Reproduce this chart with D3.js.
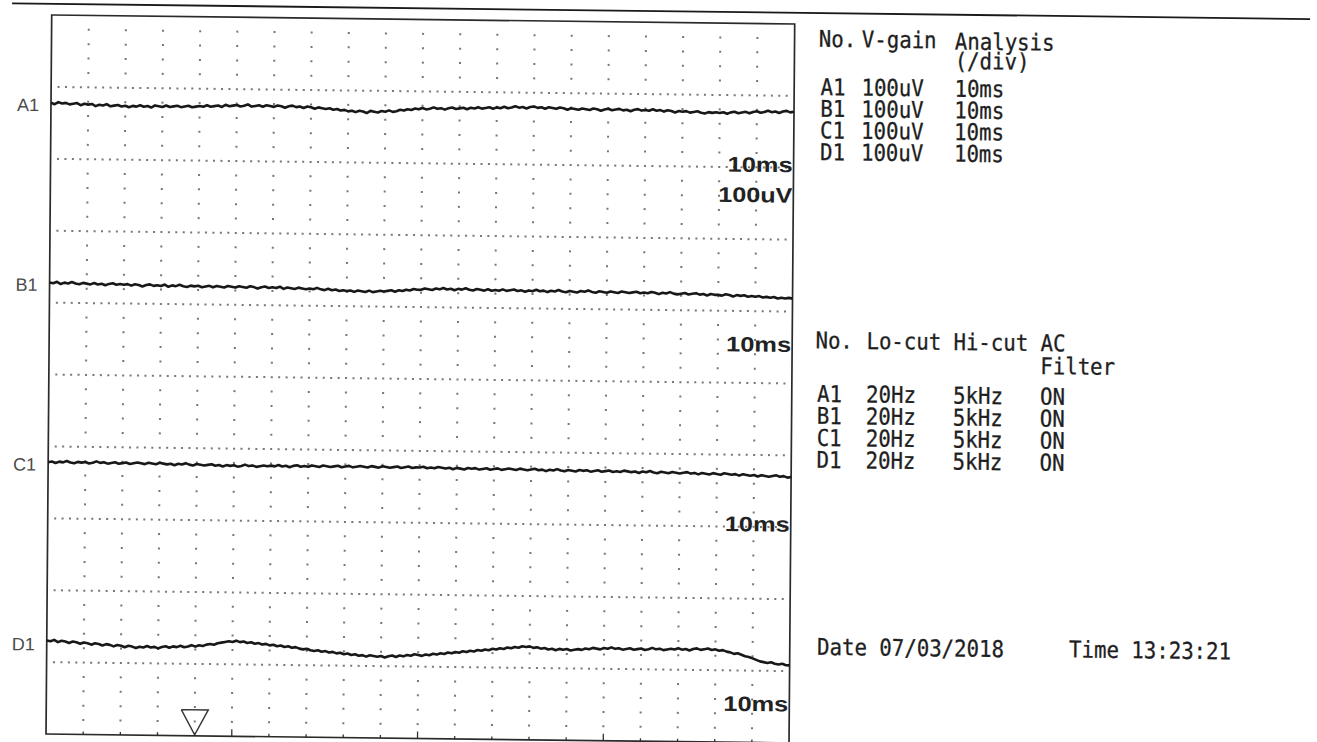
<!DOCTYPE html>
<html><head><meta charset="utf-8">
<script src="https://cdn.jsdelivr.net/npm/d3@7"></script>
<style>body{margin:0;background:#fff;}svg{display:block}</style>
</head><body>
<svg id="c" width="1317" height="742"></svg>
<script>
// ---------- data ----------
const channels = ["A1", "B1", "C1", "D1"];
const vGain = ["100uV", "100uV", "100uV", "100uV"];
const analysis = ["10ms", "10ms", "10ms", "10ms"];
const loCut = ["20Hz", "20Hz", "20Hz", "20Hz"];
const hiCut = ["5kHz", "5kHz", "5kHz", "5kHz"];
const acFilter = ["ON", "ON", "ON", "ON"];
const sweepMs = 200;          // 20 div x 10 ms
const screenUv = 1000;        // 10 div x 100 uV
const triggerMs = 40;
const dateText = "Date 07/03/2018";
const timeText = "Time 13:23:21";
const sampleStepMs = 1;
// traces in uV relative to each channel baseline, one value every 1 ms (0..200 ms)
const traceA1 = [
  3,1,4,2,3,1,2,3,0,2, 1,2,-1,1,0,2,-1,0,1,-1, 0,-2,0,-1,1,-1,0,-2,1,0, -1,1,-1,0,1,-1,0,1,-1,0,
  1,0,2,0,1,2,0,3,1,2, 3,1,2,4,1,2,3,1,3,2, 1,3,2,0,2,3,1,2,0,2, 1,-1,1,0,-1,0,-2,-1,-3,-2,
  -4,-3,-5,-3,-4,-6,-3,-4,-5,-3, -4,-2,-4,-3,-1,-2,0,-1,1,0, 2,0,1,3,1,2,0,2,3,1, 2,3,1,3,2,4,2,3,4,2,
  4,3,5,3,4,6,4,5,3,5, 6,4,5,3,5,4,3,5,4,2, 4,3,2,4,3,2,4,3,1,3, 4,2,3,4,2,3,1,3,4,2,
  3,2,4,2,3,1,3,2,0,2, 1,2,0,1,2,0,-1,1,0,1, 0,1,-1,1,2,0,1,2,0,2, 3,1,2,4,2,3,1,3,4,2, 3];
const traceB1 = [
  3,2,4,1,3,2,4,2,1,3, 2,1,3,1,2,0,2,3,1,2, 1,2,0,2,1,-1,1,2,0,1, 0,2,-1,1,0,2,0,-1,1,0,
  1,-1,0,1,-1,1,0,-1,1,0, -1,1,0,-1,1,0,-2,0,1,-1, 0,-1,1,-2,0,-1,-2,0,-1,-2, -1,-2,0,-2,-3,-1,-3,-2,-4,-3,
  -4,-3,-5,-3,-4,-5,-3,-5,-4,-3, -4,-3,-2,-4,-2,-3,-1,-2,0,-1, -1,1,0,-1,1,0,2,0,1,-1, 1,0,2,0,-1,1,0,-1,1,-1,
  0,-1,1,-1,0,1,-1,0,-2,0, -1,1,-1,0,-2,0,-1,1,-1,-2, 0,-1,-2,0,-1,1,-1,-2,0,-1, -2,0,-1,-2,0,-1,-2,-1,0,-2,
  -1,-2,0,-1,-3,-1,-2,0,-2,-3, -2,-1,-3,-2,-1,-3,-2,-4,-2,-3, -3,-4,-2,-3,-5,-3,-4,-3,-5,-4, -5,-4,-6,-5,-6,-5,-7,-6,-7,-6, -7];
const traceC1 = [
  3,4,2,4,3,5,3,2,4,3, 4,2,3,5,3,4,2,3,4,2, 3,4,2,3,4,3,2,4,3,2, 4,3,2,3,1,3,2,4,2,1,
  3,2,1,2,3,1,2,0,2,1, 2,0,1,3,1,2,0,1,2,1, 2,1,3,1,2,0,2,3,1,2, 1,3,2,1,3,2,1,2,3,1,
  2,3,1,2,3,2,1,3,2,1, 3,2,1,2,3,1,2,3,1,2, 2,3,1,2,1,3,2,1,2,0, 2,1,0,2,1,2,0,1,2,0,
  1,2,0,1,2,1,0,2,1,0, 1,2,0,1,-1,1,0,2,0,-1, 1,0,-1,1,0,1,-1,0,1,-1, 0,1,-1,0,-1,1,0,-1,0,-2,
  0,-1,1,-1,-2,0,-1,-2,0,-1, -2,-1,0,-2,-1,-3,-1,-2,-3,-1, -2,-3,-1,-2,-3,-2,-4,-2,-3,-4, -3,-5,-3,-4,-5,-4,-3,-5,-4,-6, -5];
const traceD1 = [
  5,4,6,3,5,4,2,4,3,1, 3,2,0,2,1,-1,1,0,-2,0, -1,-3,-1,-2,-4,-2,-3,-1,-3,-2, -4,-2,-1,-3,-1,-2,0,-2,-1,1,
  -1,1,0,2,3,2,4,5,6,7, 6,8,6,7,5,6,4,5,3,4, 2,3,1,2,0,1,-1,0,-2,-3, -2,-4,-5,-4,-6,-5,-7,-6,-8,-7,
  -9,-8,-10,-9,-11,-10,-12,-10,-11,-12, -11,-13,-11,-10,-12,-10,-11,-9,-10,-8, -9,-10,-8,-9,-7,-8,-6,-7,-5,-6, -4,-5,-3,-4,-2,-3,-1,-2,0,-1,
  1,0,2,1,3,2,4,3,5,4, 5,3,4,2,3,1,2,0,2,1, 2,0,1,2,1,3,2,4,3,2, 4,3,5,3,4,2,3,4,2,3,
  4,2,3,5,3,4,2,3,4,3, 5,3,4,2,4,5,3,4,5,3, 4,2,3,1,0,-2,-1,-3,-5,-6, -8,-10,-12,-13,-14,-13,-15,-16,-15,-17, -17];
const traces = [traceA1, traceB1, traceC1, traceD1];
const baselineDiv = [1.25, 3.75, 6.25, 8.75];   // channel zero position, divisions from top
const timeLabels = ["10ms", "10ms", "10ms", "10ms"];
const gainLabel = "100uV";

// ---------- layout ----------
const ox = 51.7, oy = 15, W = 743, H = 719;
const skewB = 0.0121, skewC = -0.0079;   // scan is slightly rotated
const svg = d3.select("#c");
const root = svg.append("g")
  .attr("transform", `translate(${ox},${oy}) matrix(1,${skewB},${skewC},1,0,0) translate(${-ox},${-oy})`);

// top rule
root.append("line").attr("x1", 12).attr("x2", 1310).attr("y1", 3.8).attr("y2", 3.8)
  .attr("stroke", "#1a1a1a").attr("stroke-width", 1.8);

const plot = root.append("g").attr("transform", `translate(${ox},${oy})`);
const x = d3.scaleLinear().domain([0, sweepMs]).range([0, W]);
const yDiv = d3.scaleLinear().domain([0, 10]).range([0, H]);
const xMinor = d3.scaleLinear().domain([0, 100]).range([0, W]);
const yMinor = d3.scaleLinear().domain([0, 50]).range([0, H]);

// vertical dotted columns
const dots = [];
x.ticks(20).filter(t => t > 0 && t < sweepMs).forEach(t => {
  d3.range(1, 50).filter(j => j % 5 !== 0).forEach(j => dots.push([x(t), yMinor(j)]));
});
// horizontal dotted rows
d3.range(1, 10).forEach(k => {
  d3.range(1, 100).forEach(m => dots.push([xMinor(m), yDiv(k)]));
});
plot.append("g").selectAll("rect").data(dots).join("rect")
  .attr("x", d => d[0] - 1).attr("y", d => d[1] - 1)
  .attr("width", 2).attr("height", 2).attr("fill", "#777");

// bottom ticks
plot.append("g").selectAll("line").data(x.ticks(20).filter(t => t > 0 && t < sweepMs)).join("line")
  .attr("x1", d => x(d)).attr("x2", d => x(d))
  .attr("y1", H).attr("y2", d => H - (d % 50 === 0 ? 7 : 3))
  .attr("stroke", "#333").attr("stroke-width", 1.3);

// frame
plot.append("rect").attr("x", 0).attr("y", 0).attr("width", W).attr("height", H)
  .attr("fill", "none").attr("stroke", "#2a2a2a").attr("stroke-width", 1.7);

// traces
traces.forEach((tr, ci) => {
  const top = baselineDiv[ci] * 100;
  const y = d3.scaleLinear().domain([top - screenUv, top]).range([H, 0]);
  const line = d3.line().x((d, i) => x(i * sampleStepMs)).y(d => y(d)).curve(d3.curveLinear);
  plot.append("path").datum(tr).attr("d", line)
    .attr("fill", "none").attr("stroke", "#181818").attr("stroke-width", 2.6)
    .attr("stroke-linejoin", "round");
  // channel label
  plot.append("text").attr("x", -12).attr("y", y(0) + 6.5).attr("text-anchor", "end")
    .attr("font-family", "Liberation Sans, Arial, sans-serif").attr("font-size", 18)
    .attr("fill", "#4a4a4a").text(channels[ci]);
  // time/div label
  const ty = yDiv(baselineDiv[ci] + 0.75);
  plot.append("text").attr("x", W - 1).attr("y", ty + 4.5).attr("text-anchor", "end")
    .attr("font-family", "Liberation Sans, Arial, sans-serif").attr("font-weight", "bold").attr("font-size", 21)
    .attr("fill", "#222").attr("textLength", 65).attr("lengthAdjust", "spacingAndGlyphs")
    .text(timeLabels[ci]);
  if (ci === 0) {
    plot.append("text").attr("x", W - 1).attr("y", yDiv(2.38) + 7.5).attr("text-anchor", "end")
      .attr("font-family", "Liberation Sans, Arial, sans-serif").attr("font-weight", "bold").attr("font-size", 21)
      .attr("fill", "#222").attr("textLength", 74).attr("lengthAdjust", "spacingAndGlyphs")
      .text(gainLabel);
  }
});

// trigger marker
const tx = x(triggerMs);
plot.append("path")
  .attr("d", d3.line()([[tx - 13.5, H - 26], [tx + 13.5, H - 26], [tx, H - 1], [tx - 13.5, H - 26]]))
  .attr("fill", "none").attr("stroke", "#333").attr("stroke-width", 1.4);

// ---------- right side text (each column is one text block with stacked lines) ----------
const info = root.append("g").attr("font-family", "DejaVu Sans Mono, monospace")
  .attr("font-size", 23).attr("fill", "#1e1e1e").attr("stroke", "#1e1e1e").attr("stroke-width", 0.3);
const sx = 0.9;
function column(px, lines) {   // lines: [[text, y, dx]]
  const t = info.append("text").attr("transform", `translate(${px},0) scale(${sx},1)`);
  lines.forEach(([s, py, dx]) => t.append("tspan").attr("x", (dx || 0) / sx).attr("y", py).text(s));
}
const rowsA = [85.7, 107.4, 129, 150.7];
const rowsB = [392.5, 414.5, 436.5, 458.5];
column(819, [["No.", 37.5]].concat(channels.map((c, i) => [c, rowsA[i], 2])));
column(862, [["V-gain", 37.5]].concat(vGain.map((c, i) => [c, rowsA[i]])));
column(955, [["Analysis", 38.5], ["(/div)", 58]].concat(analysis.map((c, i) => [c, rowsA[i]])));
column(818, [["No.", 339]].concat(channels.map((c, i) => [c, rowsB[i], 2])));
column(869, [["Lo-cut", 339]].concat(loCut.map((c, i) => [c, rowsB[i]])));
column(956, [["Hi-cut", 339]].concat(hiCut.map((c, i) => [c, rowsB[i]])));
column(1043, [["AC", 339], ["Filter", 362]].concat(acFilter.map((c, i) => [c, rowsB[i]])));
column(822, [[dateText, 645.5]]);
column(1074, [[timeText, 645]]);
</script>
</body></html>
